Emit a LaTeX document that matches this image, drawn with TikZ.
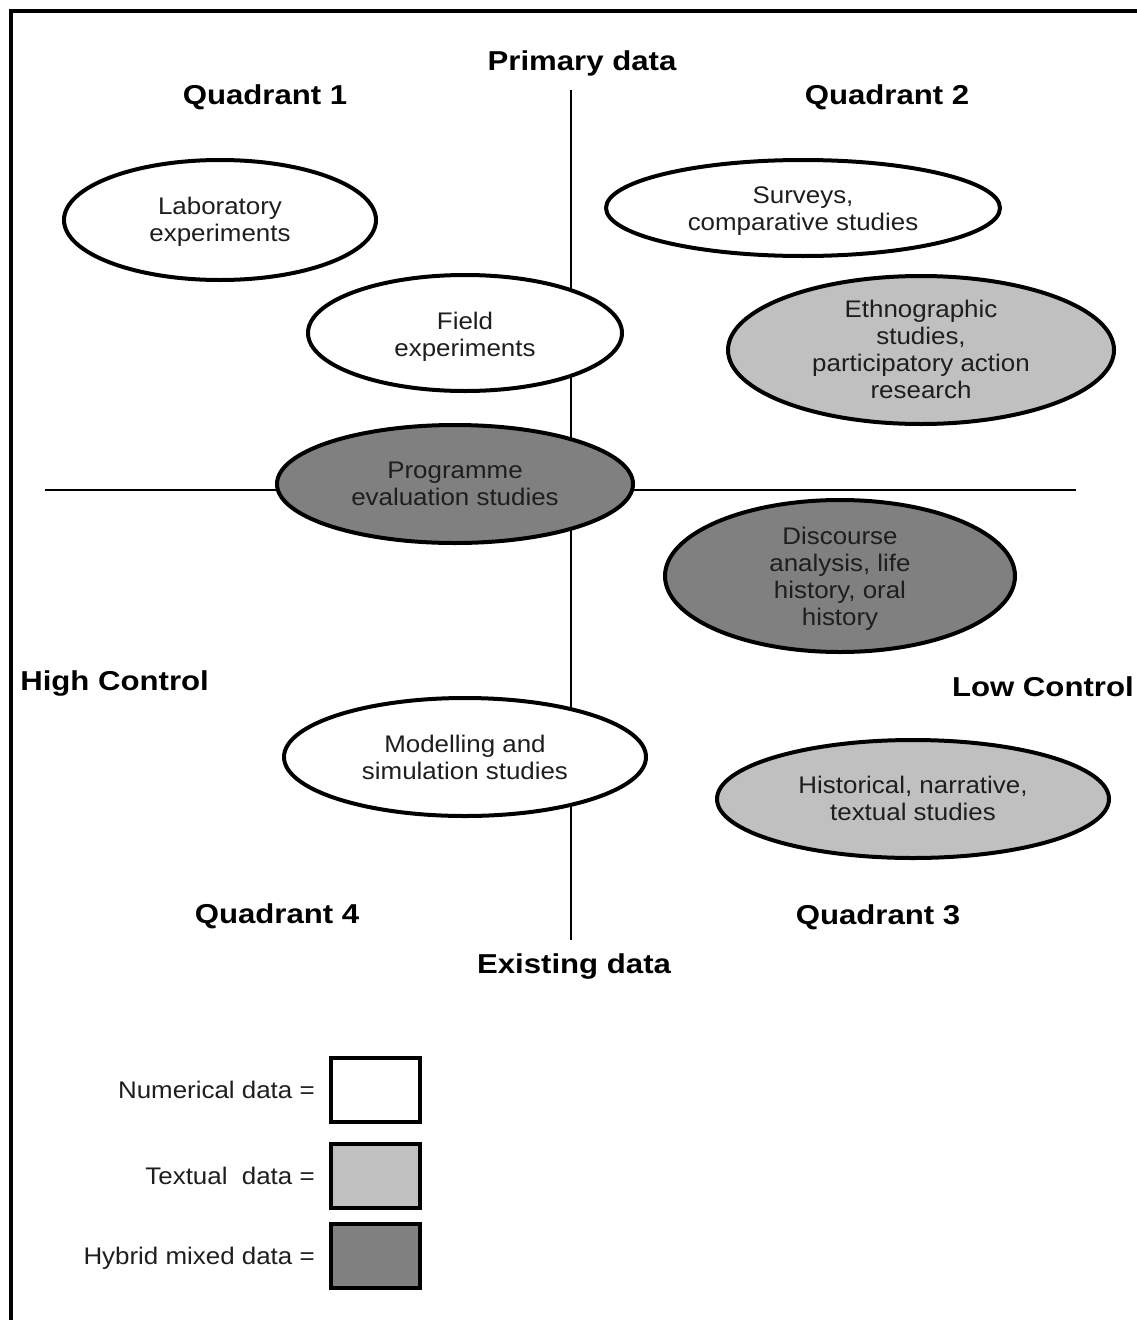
\documentclass[tikz,border=0pt]{standalone}
\usepackage{fontspec}
\newfontfamily\labfont{Liberation Sans}[FakeStretch=1.08]
\newfontfamily\headfont{Liberation Sans}[FakeStretch=1.14]
\usetikzlibrary{shapes.geometric}
\definecolor{txt}{HTML}{1E1E1E}
\definecolor{lightfill}{HTML}{C0C0C0}
\definecolor{darkfill}{HTML}{808080}
\tikzset{
  oval/.style={ellipse, draw=black, line width=3pt, inner sep=0pt},
  ovaltext/.style={align=center, inner sep=0pt, text=txt,
    font=\labfont\fontsize{18pt}{20.25pt}\selectfont},
  numfill/.style={fill=white},
  textfill/.style={fill=lightfill},
  hybfill/.style={fill=darkfill},
  heading/.style={font=\headfont\bfseries\fontsize{20.5pt}{24pt}\selectfont, text=black, inner sep=0pt},
  leglabel/.style={font=\labfont\fontsize{18pt}{20.25pt}\selectfont, text=txt, anchor=east, inner sep=0pt},
  legbox/.style={draw=black, line width=3pt, minimum width=66.75pt, minimum height=48pt, inner sep=0pt},
  axis/.style={line width=1.1pt, black}
}
\begin{document}
\begin{tikzpicture}[x=0.75pt,y=-0.75pt]
\useasboundingbox (0,0) rectangle (1136,1320);
% frame
\draw[line width=3pt] (11,1325) -- (11,11) -- (1140,11);
% axes
\coordinate (vtop) at (571,90);
\coordinate (vbot) at (571,940);
\coordinate (hl) at (45,490);
\coordinate (hr) at (1076,490);
\draw[axis] (vtop) -- (vbot);
\draw[axis] (hl) -- (hr);
% headings
\node[heading] (primary) at (582,63) {Primary data};
\node[heading] (existing) at (574,966) {Existing data};
\node[heading] (q1) at (265,97) {Quadrant 1};
\node[heading] (q2) at (887,97) {Quadrant 2};
\node[heading] (q4) at (277,916) {Quadrant 4};
\node[heading] (q3) at (878,917) {Quadrant 3};
\node[heading, anchor=west] (high) at (20,683) {High Control};
\node[heading, anchor=east] (low) at (1134,687) {Low Control};
% ellipses
\node[oval, numfill, minimum width=234pt, minimum height=90pt] (lab) at (220,220) {};
\node[ovaltext] (labt) at (220,222) {Laboratory\\experiments};
\node[oval, numfill, minimum width=295.5pt, minimum height=72pt] (surv) at (803,208) {};
\node[ovaltext] (survt) at (803,211.5) {Surveys,\\comparative studies};
\node[oval, numfill, minimum width=235.5pt, minimum height=87pt] (field) at (465,333) {};
\node[ovaltext] (fieldt) at (465,337) {Field\\experiments};
\node[oval, textfill, minimum width=289.5pt, minimum height=111pt] (ethno) at (921,350) {};
\node[ovaltext] (ethnot) at (921,349) {Ethnographic\\studies,\\participatory action\\research};
\node[oval, hybfill, minimum width=267pt, minimum height=88.5pt] (prog) at (455,484) {};
\node[ovaltext] (progt) at (455,484) {Programme\\evaluation studies};
\node[oval, hybfill, minimum width=262.5pt, minimum height=114pt] (disc) at (840,576) {};
\node[ovaltext] (disct) at (840,578.5) {Discourse\\analysis, life\\history, oral\\history};
\node[oval, numfill, minimum width=271.5pt, minimum height=88.5pt] (model) at (465,757) {};
\node[ovaltext] (modelt) at (465,757) {Modelling and\\simulation studies};
\node[oval, textfill, minimum width=294pt, minimum height=88.5pt] (hist) at (913,799) {};
\node[ovaltext] (histt) at (913,798) {Historical, narrative,\\textual studies};
% legend
\node[legbox, numfill] (bnum) at (375.5,1090) {};
\node[legbox, textfill] (btext) at (375.5,1175.5) {};
\node[legbox, hybfill] (bhyb) at (375.5,1255.5) {};
\node[leglabel] (lnum) at (315,1090) {Numerical data =};
\node[leglabel] (ltext) at (315,1176) {Textual\ \ data =};
\node[leglabel] (lhyb) at (315,1258) {Hybrid mixed data =};
\end{tikzpicture}
\end{document}
